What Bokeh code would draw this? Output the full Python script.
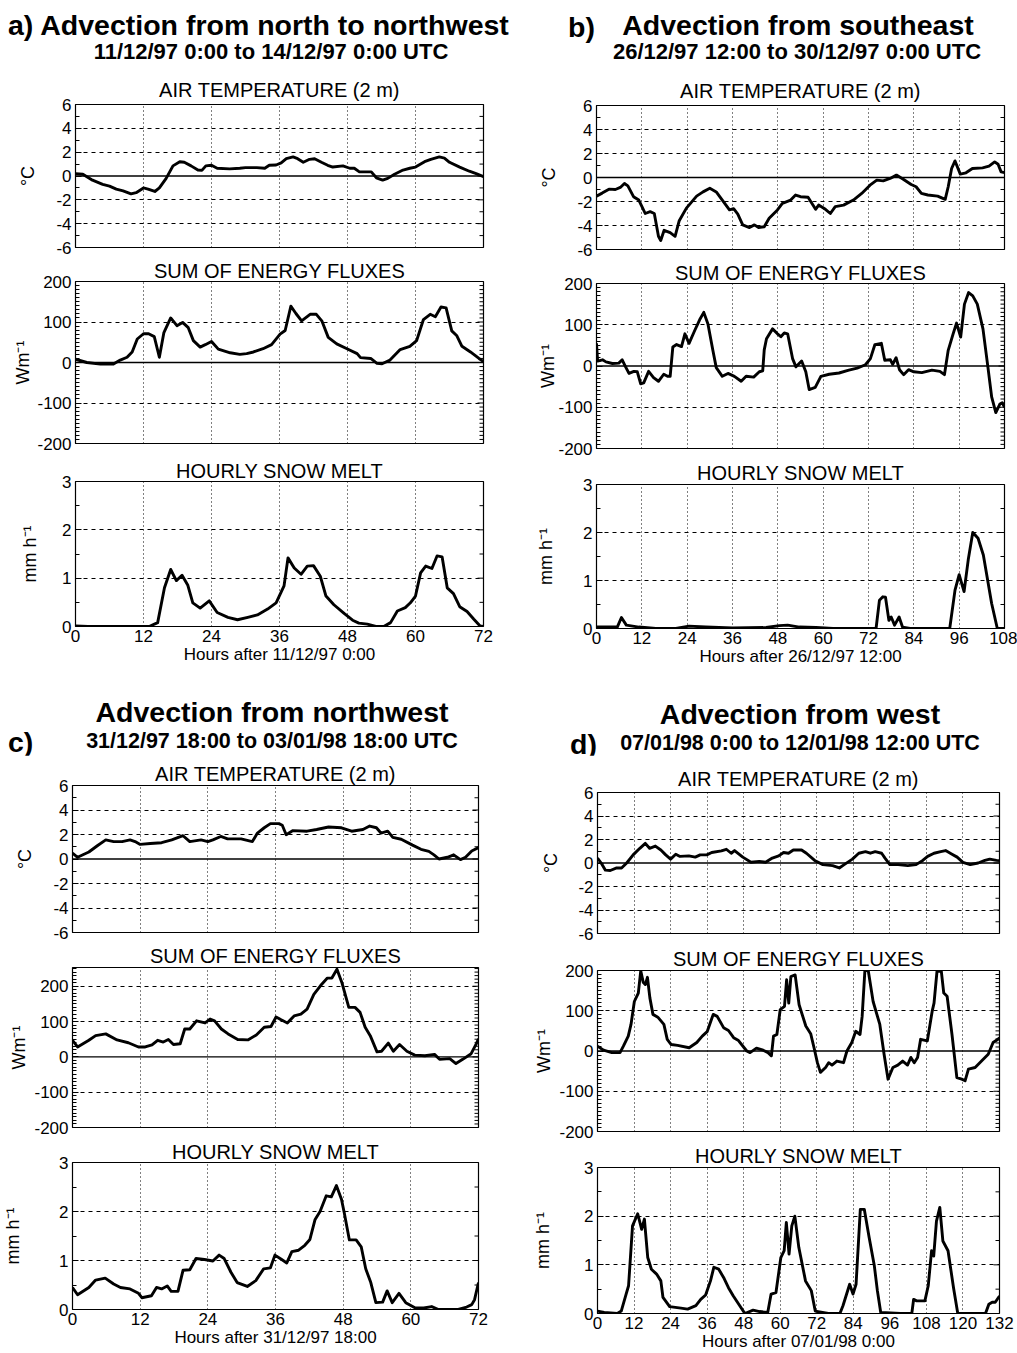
import math
from bokeh.plotting import figure
from bokeh.models import LinearAxis, FixedTicker, Span, Range1d, Title, Div
from bokeh.layouts import column, row
from bokeh.embed import file_html
from bokeh.resources import INLINE

FONT = "Liberation Sans"

# ---------------- data (hours, values) ----------------
a_temp_h = [0, 1.3, 3, 4.8, 6, 7.2, 8.4, 9.8, 10.7, 12, 12.8, 14, 14.8, 16, 17.2, 18.4, 19.2, 20.4, 21.6, 22.3,
            23, 24, 25, 27.2, 29, 30, 32, 33.4, 34.2, 35.4, 36.3, 37.2, 38.4, 39.2, 40.2, 41.3, 42.2, 43.4, 44.5, 45.4,
            47.2, 48.4, 49.2, 50.1, 52.2, 53.1, 54.2, 55.1, 56.3, 57.8, 59, 60, 61.6, 62.7, 64.2, 65.1, 66, 67.8, 69.5, 70.7, 72]
a_temp_v = [0.2, 0.15, -0.35, -0.7, -0.85, -1.1, -1.25, -1.5, -1.4, -1.0, -1.1, -1.3, -1.0, -0.2, 0.85, 1.2, 1.15, 0.85, 0.5, 0.47,
            0.85, 0.9, 0.65, 0.6, 0.65, 0.7, 0.7, 0.65, 0.9, 0.92, 1.1, 1.45, 1.6, 1.45, 1.15, 1.4, 1.45, 1.15, 0.9, 0.75,
            0.85, 0.65, 0.65, 0.35, 0.35, -0.15, -0.35, -0.2, 0.15, 0.5, 0.65, 0.75, 1.2, 1.4, 1.6, 1.5, 1.15, 0.75, 0.4, 0.2, -0.05]

a_energy_h = [0, 2, 4.4, 6.7, 7.9, 9.1, 10, 10.9, 12, 12.9, 13.9, 14.8, 15.6, 16.8, 17.9, 18.9, 19.9, 20.8, 22, 22.9,
              24, 25.2, 27.3, 29, 30.2, 31.4, 33.1, 34.6, 36.1, 37, 38, 38.9, 39.9, 41.4, 42.5, 43.5, 44.6, 46.1, 47.9, 49.7,
              50.3, 52.1, 53.2, 54.1, 55.5, 57.3, 59, 60.2, 61.4, 62.6, 63.5, 64.5, 65.4, 66.4, 67.3, 68.2, 69.7, 71.2, 72]
a_energy_v = [8, 0, -4, -4, 6, 13, 26, 58, 71, 71, 64, 13, 74, 110, 91, 99, 86, 54, 38, 44,
              52, 33, 24, 20, 22, 26, 34, 44, 70, 79, 139, 121, 103, 119, 119, 102, 62, 46, 34, 22,
              12, 10, -2, -3, 6, 32, 40, 54, 106, 119, 113, 137, 135, 78, 66, 40, 26, 10, 2]

a_snow_h = [0, 2.2, 13, 14.5, 15.7, 16.8, 17.8, 18.8, 19.8, 20.7, 22, 23.6, 25, 26.9, 28.6, 30.4, 32.1, 33.9, 35.4, 36.8,
            37.5, 38.6, 39.8, 40.9, 42, 43.2, 44.2, 45.6, 47.4, 48.9, 50, 51.5, 53, 54.4, 55.6, 56.8, 58.2, 59.1, 60, 60.9,
            61.8, 62.9, 63.8, 64.7, 65.6, 66.7, 67.8, 69.1, 70.3, 71.4, 72]
a_snow_v = [0.01, 0, 0, 0.08, 0.8, 1.18, 0.95, 1.06, 0.86, 0.49, 0.38, 0.53, 0.29, 0.19, 0.14, 0.19, 0.24, 0.36, 0.49, 0.84,
            1.42, 1.21, 1.08, 1.25, 1.26, 1.04, 0.63, 0.45, 0.27, 0.13, 0.07, 0.05, 0, 0, 0.08, 0.32, 0.39, 0.49, 0.63, 1.11,
            1.25, 1.2, 1.46, 1.44, 0.8, 0.68, 0.41, 0.31, 0.15, 0.01, 0]

b_temp_h = [0, 1.5, 3.3, 5, 6.3, 7.4, 8.3, 9.8, 11.2, 12, 12.9, 14.2, 15.3, 16.4, 17, 17.9, 19.5, 20.8, 21.9, 23.8,
            26.5, 28.2, 30, 31.7, 33.3, 35.2, 36.3, 37.4, 38.7, 40.5, 41.8, 42.9, 44.4, 45.7, 47.9, 49.2, 51.4, 52.7, 54, 56,
            58, 58.8, 60.6, 61.9, 63.2, 65.4, 68, 70.2, 72.4, 74.2, 75.9, 77.7, 79.4, 81.2, 83.3, 84.6, 86, 87.7, 90.3, 92.3,
            93.1, 94, 94.9, 96.3, 97.8, 99.5, 102.2, 103.9, 105.4, 106.3, 107.1, 108]
b_temp_v = [-1.55, -1.3, -0.97, -1.0, -0.83, -0.5, -0.7, -1.6, -1.88, -2.4, -3.0, -2.85, -3.0, -4.9, -5.25, -4.4, -4.6, -4.9, -3.6, -2.55,
            -1.55, -1.2, -0.9, -1.2, -1.88, -2.7, -2.6, -3.05, -3.95, -4.17, -3.95, -4.17, -4.1, -3.4, -2.7, -2.15, -1.88, -1.46, -1.6, -1.65,
            -2.65, -2.3, -2.65, -3.0, -2.43, -2.3, -1.88, -1.33, -0.64, -0.22, -0.28, -0.08, 0.2, -0.14, -0.58, -0.77, -1.33, -1.46, -1.55, -1.82,
            -0.77, 0.75, 1.38, 0.28, 0.39, 0.75, 0.8, 0.94, 1.3, 1.1, 0.47, 0.4]

b_energy_h = [0, 0.3, 1.6, 2.5, 4.2, 5.9, 6.8, 7.7, 8.6, 9.9, 10.8, 11.7, 12.5, 13.8, 15.1, 16.4, 17.8, 18.8, 19.5, 20.2,
              21.2, 22.5, 23.4, 24.5, 26, 27.3, 28.4, 29.5, 30.8, 31.7, 33.3, 34.8, 36.5, 38.3, 39.6, 41.6, 43.1, 44, 44.4, 45,
              46.6, 47.9, 48.8, 49.7, 50.6, 51.9, 52.8, 54.3, 55.4, 56.3, 57.9, 59.4, 61.6, 64.2, 66.8, 69, 71.2, 72.5, 73.7, 75.4,
              76.3, 77.8, 78.4, 79.3, 80.2, 81.3, 82.6, 84, 86.1, 88.8, 90.9, 92.1, 93.1, 94.4, 95.3, 96.4, 97.4, 98.5, 99.6, 100.8,
              102.3, 103.6, 104.6, 105.7, 106.8, 107.4, 108]
b_energy_v = [55, 12, 15, 10, 6, 7, 15, -2, -18, -13, -14, -43, -41, -13, -28, -37, -20, -25, -25, 46,
              52, 47, 78, 55, 86, 112, 130, 102, 38, -4, -25, -18, -25, -37, -25, -27, -14, -12, 39, 66,
              90, 78, 71, 80, 78, 18, -2, 12, -14, -57, -52, -25, -20, -17, -10, -5, 3, 18, 52, 55,
              14, 15, 4, 20, -9, -21, -9, -14, -16, -10, -13, -21, 38, 78, 104, 70, 150, 178, 170, 150,
              90, -2, -75, -113, -92, -89, -100]

b_snow_h = [0, 5.5, 6.6, 7.9, 11.2, 15.7, 21, 24.5, 28.9, 36, 44.9, 48.4, 50.6, 53.7, 58.1, 62.6, 74, 74.9, 75.8, 76.5,
            77.4, 78, 78.9, 80.1, 81, 83, 93.5, 94.9, 96, 97.3, 98.4, 99.6, 101, 102.4, 104.6, 106.1, 108]
b_snow_v = [0.03, 0.03, 0.23, 0.07, 0.03, 0, 0, 0.05, 0.03, 0.01, 0.02, 0.06, 0.07, 0.03, 0.02, 0, 0, 0.59, 0.66, 0.65,
            0.17, 0.24, 0.07, 0.24, 0.03, 0, 0, 0.8, 1.12, 0.77, 1.43, 2.0, 1.88, 1.53, 0.52, 0, 0]

c_temp_h = [0, 0.9, 2.9, 4.4, 5.9, 7.3, 8.8, 10.2, 11.1, 12, 13.8, 15.8, 17.6, 19.6, 20.8, 22.8, 24, 24.9, 26.3, 27.5,
            29.9, 31.9, 32.8, 34, 35.1, 36.6, 37.2, 37.9, 39.1, 41.6, 43.3, 45.4, 47.7, 49.5, 51.5, 52.7, 53.9, 54.7, 55.9, 56.8,
            58.3, 60.3, 61.8, 63.2, 64.1, 65, 66.5, 67.6, 68.8, 69.7, 70.8, 72]
c_temp_v = [0.48, 0.14, 0.57, 1.08, 1.56, 1.42, 1.42, 1.56, 1.42, 1.19, 1.27, 1.33, 1.56, 1.9, 1.42, 1.56, 1.42, 1.56, 1.84, 1.64,
            1.64, 1.42, 2.12, 2.55, 2.89, 2.89, 2.75, 1.98, 2.32, 2.27, 2.41, 2.61, 2.55, 2.27, 2.41, 2.69, 2.55, 2.12, 2.27, 1.76,
            1.61, 1.13, 0.79, 0.62, 0.34, 0.0, 0.14, 0.34, -0.05, 0.14, 0.65, 0.93]

c_energy_h = [0, 0.9, 2.9, 4.1, 5.9, 7.9, 9.9, 11.7, 12.9, 14.1, 15.1, 16.1, 17, 17.9, 19.1, 19.9, 20.8, 22, 23.5, 24.4,
              25.2, 26.4, 27.6, 29.3, 31.1, 32.6, 34, 35.2, 36.1, 37, 38.1, 39.3, 40.5, 41.6, 42.8, 44, 45.2, 46, 46.9, 47.8,
              49, 50.1, 51, 51.9, 52.8, 54, 54.8, 56, 56.9, 58, 59.3, 60.7, 62.5, 64.2, 65.1, 66.9, 68, 69.2, 70.7, 71.6, 72]
c_energy_v = [47, 28, 47, 60, 65, 48, 40, 28, 28, 34, 47, 42, 49, 35, 37, 79, 79, 102, 96, 107,
              102, 79, 65, 49, 48, 62, 84, 86, 113, 105, 96, 116, 121, 135, 177, 202, 223, 223, 248, 209,
              140, 140, 126, 84, 60, 14, 16, 39, 16, 35, 16, 5, 3, 7, -7, -5, -19, -7, 9, 37, 51]

c_snow_h = [0, 0.9, 2.9, 4.1, 5.8, 7.3, 8.5, 10.2, 11.7, 12.3, 14, 14.9, 15.8, 16.8, 17.5, 18.7, 19.6, 20.8, 21.9, 23.4,
            24.9, 26, 26.9, 28.1, 29.2, 31, 32.5, 33.9, 35.1, 35.9, 37.1, 38, 38.9, 40.1, 41.2, 42.1, 43, 43.9, 45, 45.9,
            46.8, 47.7, 48.2, 49.1, 50.3, 51.2, 52, 52.9, 53.8, 55, 55.8, 56.7, 57.9, 59.1, 60.8, 62.3, 63.7, 64.9, 68.4, 69.9,
            70.8, 71.3, 72]
c_snow_v = [0.45, 0.3, 0.45, 0.6, 0.64, 0.52, 0.45, 0.42, 0.33, 0.24, 0.28, 0.45, 0.42, 0.48, 0.37, 0.37, 0.8, 0.81, 1.04, 1.02,
            0.99, 1.11, 1.04, 0.76, 0.55, 0.47, 0.59, 0.83, 0.85, 1.11, 1.02, 0.95, 1.18, 1.21, 1.31, 1.43, 1.83, 2.0, 2.32, 2.3,
            2.53, 2.25, 1.97, 1.42, 1.42, 1.28, 0.83, 0.55, 0.14, 0.15, 0.38, 0.14, 0.33, 0.14, 0.03, 0.03, 0.06, 0, 0, 0.05,
            0.1, 0.2, 0.55]

d_temp_h = [0, 1.2, 2.6, 4.2, 6.3, 7.9, 9.6, 11.7, 13.9, 15.7, 17.1, 19, 20.8, 22.4, 24, 25.7, 27.1, 30, 32.1, 33.7,
            35.9, 37.5, 40.7, 42.3, 43.9, 45, 47.7, 50.4, 53.1, 55.2, 57.4, 59.5, 61.1, 62.7, 64.3, 67, 68.6, 71.3, 74, 77.2,
            79.4, 81, 83.7, 85.8, 88, 89.6, 91.2, 93.3, 94.4, 96, 98.7, 101.9, 104.6, 106.8, 108.4, 110.5, 112.7, 114.3, 116.4, 118.1,
            120, 122.4, 125, 127.2, 128.8, 131, 132]
d_temp_v = [0.42, 0, -0.61, -0.64, -0.42, -0.42, 0, 0.69, 1.25, 1.67, 1.25, 1.44, 1.11, 0.69, 0.33, 0.75, 0.56, 0.61, 0.5, 0.69,
            0.69, 0.89, 1.03, 1.17, 0.83, 1.06, 0.5, 0.06, 0.14, 0.06, 0.42, 0.61, 0.89, 0.83, 1.11, 1.11, 0.83, 0.22, -0.14, -0.22,
            -0.42, -0.14, 0.33, 0.83, 0.97, 0.83, 0.97, 0.83, 0.42, -0.14, -0.14, -0.22, -0.14, 0.22, 0.56, 0.83, 0.97, 1.06, 0.75, 0.5,
            0.06, -0.14, 0, 0.22, 0.33, 0.22, 0.2]

d_energy_h = [0, 2, 4.7, 7.4, 8.5, 10.1, 11, 12.1, 13.4, 14.2, 15, 15.7, 16.4, 17.2, 18.2, 19.8, 21.8, 22.9, 24.2, 26.3,
              30.1, 32.6, 34.4, 36, 38, 39.3, 41.4, 43, 44.7, 46.3, 49, 50.1, 52.2, 54.4, 56, 57.1, 57.8, 58.9, 60, 61.4,
              62.1, 62.8, 63.5, 64.9, 66.2, 68.4, 70, 71.1, 72.2, 73.2, 74.9, 75.9, 77, 78.6, 80.8, 81.9, 83.5, 84.8, 86.2, 86.9,
              87.8, 88.9, 90.5, 92.7, 94.1, 95.4, 97, 98.6, 100.2, 101.8, 102.9, 104, 105.1, 106.1, 108.3, 109.9, 110.5, 111.5, 112.9, 113.7,
              114.8, 116.4, 118, 119.6, 120.7, 121.8, 124, 126.1, 128.3, 129.9, 131.5, 132]
d_energy_v = [12, 2, -4, -4, 12, 37, 66, 123, 144, 199, 171, 165, 183, 132, 91, 84, 66, 29, 16, 14,
              8, 21, 37, 48, 91, 86, 58, 51, 33, 26, 0, -4, 7, 2, -4, -12, 37, 41, 103, 111,
              177, 119, 185, 189, 115, 62, 43, 8, -29, -53, -41, -29, -35, -25, -29, 0, 21, 49, 41, 86,
              200, 200, 123, 66, -8, -70, -41, -35, -25, -35, -16, -29, -16, 29, 25, 99, 119, 200, 198, 144,
              136, 41, -66, -70, -74, -45, -41, -25, -8, 21, 29, 33]

d_snow_h = [0, 2.2, 6.5, 7.8, 9.4, 10.2, 11.5, 13.2, 14.5, 15.4, 16.5, 17.7, 19.4, 20.8, 21.5, 23.7, 27.4, 29.6, 32.3, 33.9,
            35.5, 37.1, 38.2, 39.8, 41.4, 43, 44.6, 48.4, 51.1, 53.2, 55.9, 57, 58.6, 60.2, 61.3, 62, 62.9, 63.8, 64.8, 66.1,
            68.3, 70.2, 71.5, 75.8, 79.6, 80.6, 82.8, 83.9, 84.9, 86.3, 87.6, 89.2, 90.9, 91.9, 93, 99.5, 103.2, 103.8, 104.8, 107.5,
            108.6, 109.7, 110.4, 111.3, 112.4, 113.4, 115.1, 116.9, 118.3, 127.4, 128.5, 129.6, 130.6, 132]
d_snow_v = [0.05, 0.02, 0, 0.05, 0.4, 0.57, 1.8, 2.05, 1.73, 1.94, 1.15, 0.91, 0.81, 0.67, 0.33, 0.14, 0.11, 0.09, 0.16, 0.29,
            0.38, 0.67, 0.95, 0.91, 0.74, 0.53, 0.36, 0, 0.07, 0.04, 0.02, 0.4, 0.43, 1.15, 1.29, 1.87, 1.22, 1.8, 2.0, 1.36,
            0.67, 0.47, 0.05, 0, 0, 0.16, 0.6, 0.4, 0.6, 2.14, 2.14, 1.56, 0.98, 0.47, 0.02, 0, 0, 0.29, 0.26, 0.26,
            0.57, 1.29, 1.18, 1.9, 2.18, 1.49, 1.29, 0.53, 0, 0, 0.19, 0.23, 0.23, 0.36]

# ---------------- text ----------------
panel_titles = ["a) Advection from north to northwest", "Advection from southeast",
                "Advection from northwest", "Advection from west"]
panel_letters = ["a)", "b)", "c)", "d)"]
panel_periods = ["11/12/97 0:00 to 14/12/97 0:00 UTC", "26/12/97 12:00 to 30/12/97 0:00 UTC",
                 "31/12/97 18:00 to 03/01/98 18:00 UTC", "07/01/98 0:00 to 12/01/98 12:00 UTC"]
x_labels = ["Hours after 11/12/97 0:00", "Hours after 26/12/97 12:00",
            "Hours after 31/12/97 18:00", "Hours after 07/01/98 0:00"]
x_max = [72, 108, 72, 132]
sub_titles = ["AIR TEMPERATURE (2 m)", "SUM OF ENERGY FLUXES", "HOURLY SNOW MELT"]
y_labels = ["\u00b0C", "Wm\u207b\u00b9", "mm h\u207b\u00b9"]
temp_ticks = [-6, -4, -2, 0, 2, 4, 6]
energy_ticks = [-200, -100, 0, 100, 200]
snow_ticks = [0, 1, 2, 3]


def make_fig(frame, origin, size, xmax, ylim, yticks, yminor, ygrid, show_x, zero,
             title, title_standoff, ylabel, ylabel_standoff, xlabel):
    fx0, fy0, fx1, fy1 = frame
    ox, oy = origin
    W, H = size
    p = figure(width=W, height=H, x_range=Range1d(0, xmax), y_range=Range1d(*ylim),
               output_backend="svg", toolbar_location=None,
               min_border_left=fx0 - ox, min_border_right=ox + W - fx1,
               min_border_top=fy0 - oy, min_border_bottom=oy + H - fy1)
    p.outline_line_color = "black"
    p.outline_line_width = 1.2
    p.outline_line_alpha = 1.0
    p.background_fill_color = "white"
    p.border_fill_color = "white"

    p.add_layout(Title(text=title, align="center", text_font=FONT, text_font_size="20px",
                       text_font_style="normal", text_color="black", standoff=title_standoff), "above")

    ya = p.yaxis[0]
    ya.ticker = FixedTicker(ticks=yticks, minor_ticks=yminor)
    ya.major_label_overrides = {t: str(t) for t in yticks}
    ya.axis_line_color = None
    ya.major_tick_in = 6
    ya.major_tick_out = 0
    ya.minor_tick_in = 4
    ya.minor_tick_out = 0
    ya.major_tick_line_color = "black"
    ya.minor_tick_line_color = "black"
    ya.major_label_text_font = FONT
    ya.major_label_text_font_size = "17px"
    ya.major_label_text_color = "black"
    ya.major_label_standoff = 4
    ya.axis_label = ylabel
    ya.axis_label_text_font = FONT
    ya.axis_label_text_font_size = "18px"
    ya.axis_label_text_font_style = "normal"
    ya.axis_label_text_color = "black"
    ya.axis_label_standoff = ylabel_standoff

    xa = p.xaxis[0]
    xa.ticker = FixedTicker(ticks=list(range(0, xmax + 1, 12)), minor_ticks=[])
    xa.axis_line_color = None
    xa.major_tick_in = 0
    xa.major_tick_out = 0
    xa.minor_tick_in = 0
    xa.minor_tick_out = 0
    xa.major_label_text_font = FONT
    xa.major_label_text_font_size = "17px"
    xa.major_label_text_color = "black"
    xa.major_label_standoff = 3
    if show_x:
        xa.axis_label = xlabel
        xa.axis_label_text_font = FONT
        xa.axis_label_text_font_size = "17px"
        xa.axis_label_text_font_style = "normal"
        xa.axis_label_text_color = "black"
        xa.axis_label_standoff = 0
    else:
        xa.visible = False

    # inward tick marks on the right edge of the frame
    p.ray(x=[xmax] * len(yticks), y=yticks, length=6, angle=math.pi, length_units="screen",
          line_color="black", line_width=1)
    p.ray(x=[xmax] * len(yminor), y=yminor, length=4, angle=math.pi, length_units="screen",
          line_color="black", line_width=1)

    p.xgrid.ticker = FixedTicker(ticks=list(range(12, xmax, 12)))
    p.xgrid.grid_line_color = "black"
    p.xgrid.grid_line_dash = "1 3"
    p.xgrid.grid_line_width = 1
    p.ygrid.ticker = FixedTicker(ticks=ygrid)
    p.ygrid.grid_line_color = "black"
    p.ygrid.grid_line_dash = "4 4"
    p.ygrid.grid_line_width = 1
    if zero:
        p.add_layout(Span(location=0, dimension="width", line_color="black", line_width=1.3))
    return p


def header_div(W, H, items):
    spans = []
    for text, x, y, size, align in items:
        tx = "-50%" if align == "center" else "0"
        spans.append(
            f'<span style="position:absolute;left:{x}px;top:{y}px;transform:translate({tx},-50%);'
            f'font-size:{size};font-weight:bold;white-space:nowrap;line-height:1;">{text}</span>')
    html = (f'<div style="position:relative;width:{W}px;height:{H}px;overflow:visible;'
            f"font-family:'Liberation Sans',Arial,sans-serif;color:#000;\">" + "".join(spans) + "</div>")
    return Div(text=html, width=W, height=H, margin=(0, 0, 0, 0))


# geometry of each panel (page pixels)
geo = [
    dict(ox=0, oy=0, W=530, fx0=75, fx1=483, head=62,
         rows=[(62, 195, 104, 247), (257, 199, 280, 443), (456, 226, 481, 626)],
         t_so=[7, 0, 0], yl_so=[15, 1, 19],
         head_items=[(panel_titles[0], 8, 25, "28.5px", "left"),
                     (panel_periods[0], 271, 52, "22px", "center")]),
    dict(ox=530, oy=0, W=487, fx0=596, fx1=1004, head=62,
         rows=[(62, 197, 105, 249), (259, 200, 283, 448), (459, 223, 484, 628)],
         t_so=[7, 0, 1], yl_so=[15, -3, 24],
         head_items=[(panel_letters[1], 38, 27, "28.5px", "left"),
                     (panel_titles[1], 268, 25, "28.5px", "center"),
                     (panel_periods[1], 267, 52, "22px", "center")]),
    dict(ox=0, oy=682, W=530, fx0=69, fx1=478, head=73,
         rows=[(755, 187, 785, 932), (942, 195, 967, 1127), (1137, 216, 1162, 1309)],
         t_so=[1, 1, 0], yl_so=[15, 2, 33],
         head_items=[(panel_titles[2], 272, 30, "28.5px", "center"),
                     (panel_letters[2], 8, 60, "28.5px", "left"),
                     (panel_periods[2], 272, 60, "21.5px", "center")]),
    dict(ox=530, oy=682, W=487, fx0=590, fx1=999, head=73,
         rows=[(755, 190, 792, 933), (945, 197, 970, 1131), (1142, 211, 1167, 1313)],
         t_so=[5, 1, 1], yl_so=[14, 2, 28],
         head_items=[(panel_titles[3], 270, 32, "28.5px", "center"),
                     (panel_letters[3], 40, 62, "28.5px", "left"),
                     (panel_periods[3], 270, 62, "21.5px", "center")]),
]

series = [
    [(a_temp_h, a_temp_v), (a_energy_h, a_energy_v), (a_snow_h, a_snow_v)],
    [(b_temp_h, b_temp_v), (b_energy_h, b_energy_v), (b_snow_h, b_snow_v)],
    [(c_temp_h, c_temp_v), (c_energy_h, c_energy_v), (c_snow_h, c_snow_v)],
    [(d_temp_h, d_temp_v), (d_energy_h, d_energy_v), (d_snow_h, d_snow_v)],
]
energy_top = [200, 200, 253, 200]

columns = []
for i in range(4):
    g = geo[i]
    xm = x_max[i]
    items = [header_div(g["W"], g["head"], g["head_items"])]
    specs = [
        ((-6, 6), temp_ticks, [-5, -3, -1, 1, 3, 5], [-4, -2, 2, 4], True),
        ((-200, energy_top[i]), energy_ticks, [v for v in range(-200, energy_top[i] + 1, 10) if v % 100 != 0],
         [v for v in [-100, 100, 200] if v < energy_top[i] - 1], True),
        ((0, 3), snow_ticks, [0.5, 1.5, 2.5], [1, 2], False),
    ]
    for k in range(3):
        oy, H, ft, fb = g["rows"][k]
        frame = (g["fx0"], ft, g["fx1"], fb)
        ylim, yt, ymin, ygr, zero = specs[k]
        p = make_fig(frame, (g["ox"], oy), (g["W"], H), xm, ylim, yt, ymin, ygr, k == 2, zero,
                     sub_titles[k], g["t_so"][k], y_labels[k], g["yl_so"][k], x_labels[i])
        hx, hv = series[i][k]
        n = min(len(hx), len(hv))
        p.line(hx[:n], hv[:n], line_color="black", line_width=2.9, line_join="round")
        items.append(p)
    columns.append(column(*items, spacing=0))

layout = column(row(columns[0], columns[1], spacing=0), row(columns[2], columns[3], spacing=0), spacing=0)

open("out.html", "w").write(file_html(layout, INLINE))
